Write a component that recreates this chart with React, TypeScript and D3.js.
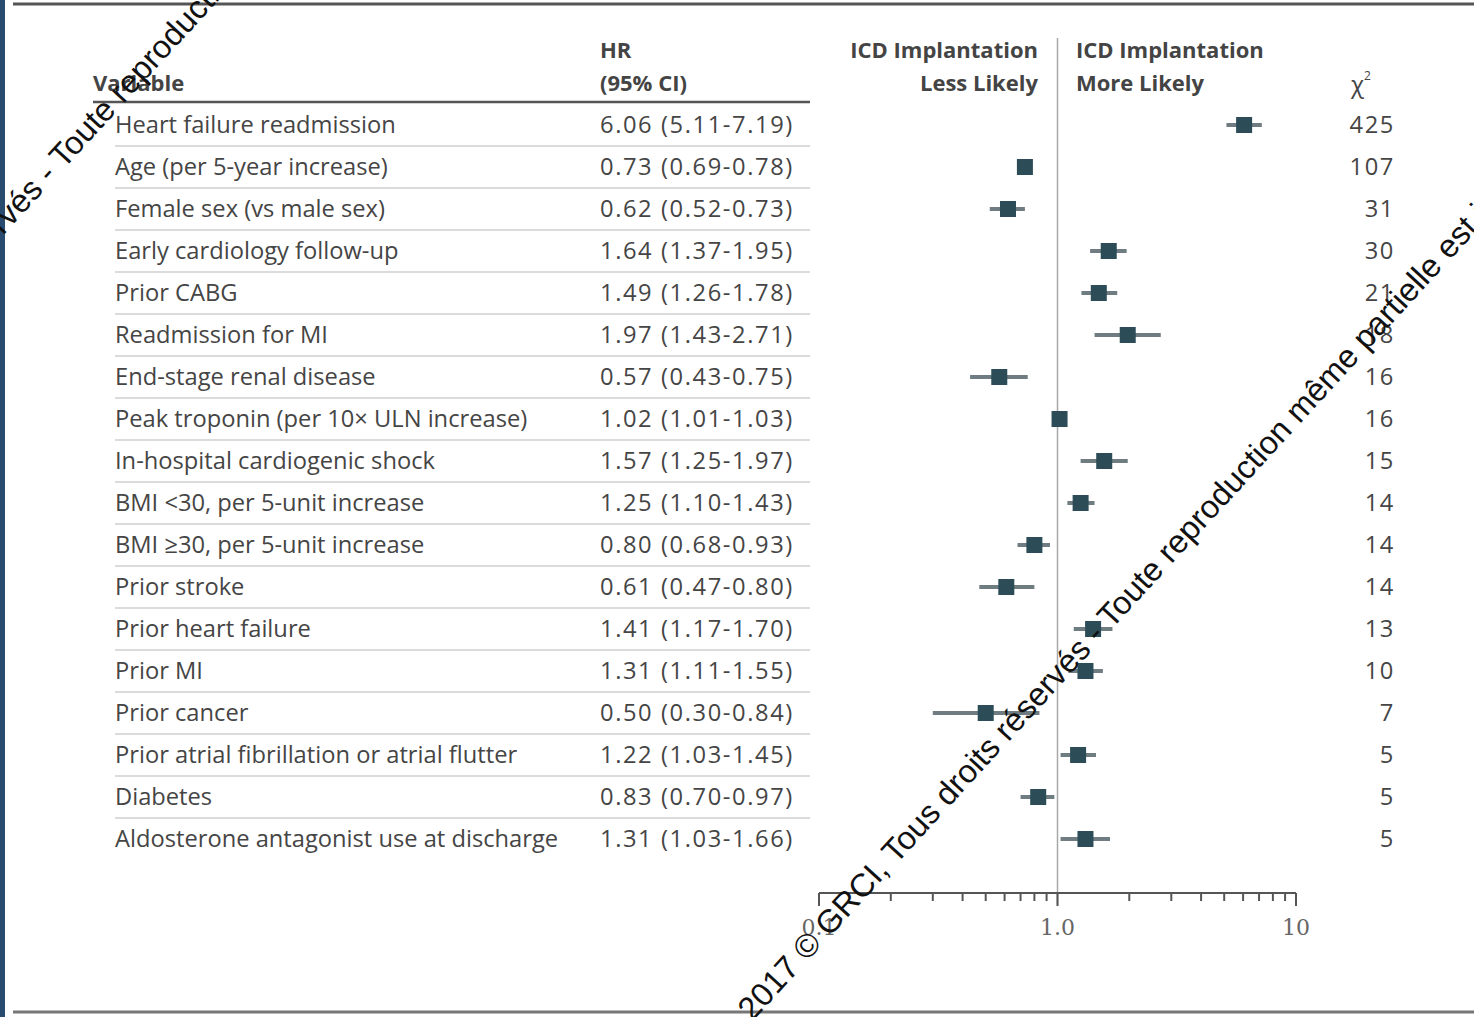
import React from "react";
import * as d3 from "d3";

// Predictors of ICD implantation: hazard ratios with 95% CI and chi-square
const variables: string[] = [
  "Heart failure readmission",
  "Age (per 5-year increase)",
  "Female sex (vs male sex)",
  "Early cardiology follow-up",
  "Prior CABG",
  "Readmission for MI",
  "End-stage renal disease",
  "Peak troponin (per 10× ULN increase)",
  "In-hospital cardiogenic shock",
  "BMI <30, per 5-unit increase",
  "BMI ≥30, per 5-unit increase",
  "Prior stroke",
  "Prior heart failure",
  "Prior MI",
  "Prior cancer",
  "Prior atrial fibrillation or atrial flutter",
  "Diabetes",
  "Aldosterone antagonist use at discharge",
];
const hr: number[] = [6.06, 0.73, 0.62, 1.64, 1.49, 1.97, 0.57, 1.02, 1.57, 1.25, 0.8, 0.61, 1.41, 1.31, 0.5, 1.22, 0.83, 1.31];
const ciLow: number[] = [5.11, 0.69, 0.52, 1.37, 1.26, 1.43, 0.43, 1.01, 1.25, 1.1, 0.68, 0.47, 1.17, 1.11, 0.3, 1.03, 0.7, 1.03];
const ciHigh: number[] = [7.19, 0.78, 0.73, 1.95, 1.78, 2.71, 0.75, 1.03, 1.97, 1.43, 0.93, 0.8, 1.7, 1.55, 0.84, 1.45, 0.97, 1.66];
const chiSquare: number[] = [425, 107, 31, 30, 21, 18, 16, 16, 15, 14, 14, 14, 13, 10, 7, 5, 5, 5];
const axisTicks: number[] = [0.1, 1, 10];
const axisTickLabels: string[] = ["0.1", "1.0", "10"];

const W = 1474;
const H = 1017;
const FONT = "'Open Sans', 'Noto Sans', sans-serif";
const WATERMARK = "2017 © GRCI, Tous droits réservés - Toute reproduction même partielle est interdite";

const fmt = (v: number) => v.toFixed(2);

export default function App() {
  const x = d3.scaleLog().domain([0.1, 10]).range([819, 1296]);
  const y = d3
    .scaleBand<number>()
    .domain(d3.range(variables.length))
    .range([104, 104 + 42 * variables.length]);
  const cy = (i: number) => (y(i) as number) + y.bandwidth() / 2;

  const minorTicks: number[] = [];
  for (const base of [0.1, 1]) {
    for (let k = 2; k <= 9; k++) minorTicks.push(base * k);
  }
  const axisY = 893;
  const sq = 16;
  const bodySize = 23.7;
  const textFill = "#454545";

  return (
    <svg
      width={W}
      height={H}
      style={{ position: "absolute", left: 0, top: 0, display: "block", background: "#fff" }}
      fontFamily={FONT}
    >
      <rect x={0} y={0} width={W} height={H} fill="#fff" />
      {/* frame */}
      <rect x={0} y={0} width={5} height={H} fill="#2a4b70" />
      <line x1={13} x2={W} y1={4} y2={4} stroke="#555" strokeWidth={3} />
      <line x1={13} x2={W} y1={1012} y2={1012} stroke="#777" strokeWidth={3} />

      {/* header */}
      <g fill="#444" fontWeight={700} fontSize={22}>
        <text x={93} y={91}>Variable</text>
        <text x={600} y={58}>HR</text>
        <text x={600} y={91}>(95% CI)</text>
        <text x={1038} y={58} textAnchor="end">ICD Implantation</text>
        <text x={1038} y={91} textAnchor="end">Less Likely</text>
        <text x={1076} y={58}>ICD Implantation</text>
        <text x={1076} y={91}>More Likely</text>
        <text x={1351} y={93} fontWeight={400} fontSize={24}>
          χ<tspan fontSize={12} dy={-13}>2</tspan>
        </text>
      </g>
      <line x1={93} x2={810} y1={102} y2={102} stroke="#555" strokeWidth={2.5} />

      {/* row separators */}
      {d3.range(1, variables.length).map((i) => (
        <line key={"sep" + i} x1={115} x2={810} y1={y(i) as number} y2={y(i) as number} stroke="#cfcfcf" strokeWidth={1.5} />
      ))}

      {/* reference line at HR = 1 */}
      <line x1={x(1)} x2={x(1)} y1={38} y2={axisY + 12} stroke="#a8a8a8" strokeWidth={1.5} />

      {/* rows */}
      {variables.map((v, i) => (
        <g key={v}>
          <text x={115} y={cy(i) + 8} fontSize={bodySize} fill={textFill}>{v}</text>
          <text x={600} y={cy(i) + 8} fontSize={bodySize} fill={textFill} letterSpacing={1.6}>
            {`${fmt(hr[i])} (${fmt(ciLow[i])}-${fmt(ciHigh[i])})`}
          </text>
          <text x={1395} y={cy(i) + 8} fontSize={bodySize} fill={textFill} textAnchor="end" letterSpacing={1.6}>
            {chiSquare[i]}
          </text>
          <line x1={x(ciLow[i])} x2={x(ciHigh[i])} y1={cy(i)} y2={cy(i)} stroke="#6f7d82" strokeWidth={4} />
          <rect x={x(hr[i]) - sq / 2} y={cy(i) - sq / 2} width={sq} height={sq} fill="#2c4d58" />
        </g>
      ))}

      {/* log axis */}
      <line x1={x(0.1)} x2={x(10)} y1={axisY} y2={axisY} stroke="#555" strokeWidth={2} />
      {minorTicks.map((t) => (
        <line key={"m" + t} x1={x(t)} x2={x(t)} y1={axisY} y2={axisY + 8} stroke="#555" strokeWidth={2} />
      ))}
      {axisTicks.map((t, i) => (
        <g key={"t" + t}>
          <line x1={x(t)} x2={x(t)} y1={axisY} y2={axisY + 13} stroke="#555" strokeWidth={2} />
          <text x={x(t)} y={935} textAnchor="middle" fontSize={22} fill="#666" fontFamily="'DejaVu Serif', serif">
            {axisTickLabels[i]}
          </text>
        </g>
      ))}

      {/* diagonal copyright overlay */}
      <g fontFamily="'Liberation Sans', Arial, sans-serif" fontSize={32.5} fill="#111">
        <text transform="translate(752,1022) rotate(-47.5)">{WATERMARK}</text>
        <text transform="translate(-296,562) rotate(-47.5)">{WATERMARK}</text>
      </g>
    </svg>
  );
}
